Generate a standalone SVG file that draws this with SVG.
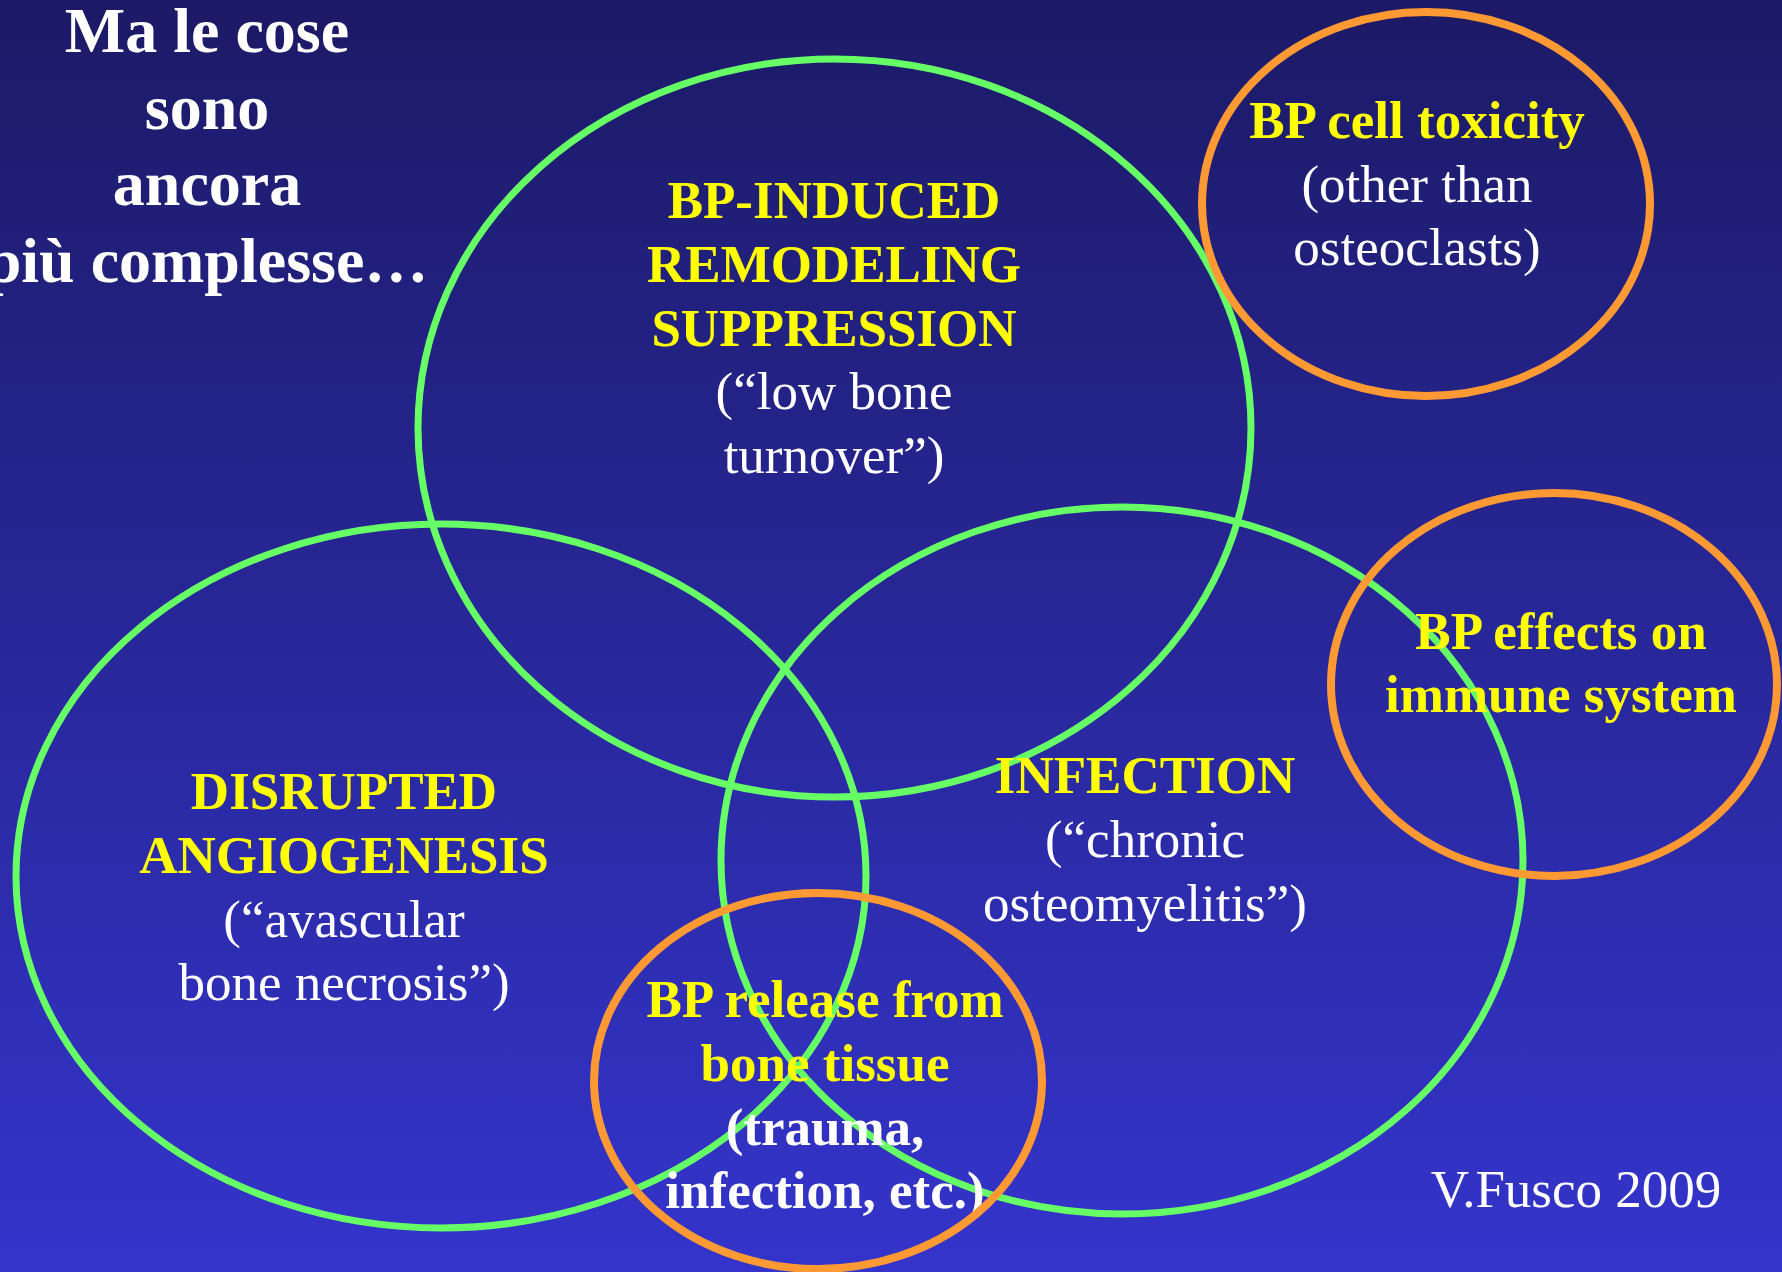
<svg xmlns="http://www.w3.org/2000/svg" width="1782" height="1272" viewBox="0 0 1782 1272">
<defs>
<linearGradient id="bg" x1="0" y1="0" x2="0" y2="1">
<stop offset="0" stop-color="#1c1a66"/>
<stop offset="1" stop-color="#3434cc"/>
</linearGradient>
<style>
.g{fill:none;stroke:#66ff66;stroke-width:7}
.o{fill:none;stroke:#ff9933;stroke-width:8}
text{font-family:"Liberation Serif","Times New Roman",serif;font-size:53px;text-anchor:middle}
.y{fill:#ffff00;font-weight:bold}
.w{fill:#ffffff}
.wb{fill:#ffffff;font-weight:bold}
.t{fill:#ffffff;font-weight:bold;font-size:64px}
</style>
</defs>
<rect width="1782" height="1272" fill="url(#bg)"/>
<g id="title">
<text class="t" x="207" y="52">Ma le cose</text>
<text class="t" x="207" y="129">sono</text>
<text class="t" x="207" y="205">ancora</text>
<text class="t" x="207" y="282">più complesse…</text>
</g>
<g id="remodeling">
<text class="y" x="834" y="218">BP-INDUCED</text>
<text class="y" x="834" y="282">REMODELING</text>
<text class="y" x="834" y="346">SUPPRESSION</text>
<text class="w" x="834" y="409">(“low bone</text>
<text class="w" x="834" y="473">turnover”)</text>
<ellipse class="g" cx="834.5" cy="428" rx="416.5" ry="369"/>
</g>
<g id="angiogenesis">
<text class="y" x="344" y="809">DISRUPTED</text>
<text class="y" x="344" y="873">ANGIOGENESIS</text>
<text class="w" x="344" y="937">(“avascular</text>
<text class="w" x="344" y="1000">bone necrosis”)</text>
<ellipse class="g" cx="441" cy="876" rx="425" ry="352"/>
</g>
<g id="infection">
<text class="y" x="1145" y="793">INFECTION</text>
<text class="w" x="1145" y="857">(“chronic</text>
<text class="w" x="1145" y="921">osteomyelitis”)</text>
<ellipse class="g" cx="1122" cy="860.5" rx="401" ry="353.5"/>
</g>
<g id="toxicity">
<ellipse class="o" cx="1426" cy="204" rx="224" ry="192"/>
<text class="y" x="1417" y="138">BP cell toxicity</text>
<text class="w" x="1417" y="202">(other than</text>
<text class="w" x="1417" y="265">osteoclasts)</text>
</g>
<g id="immune">
<text class="y" x="1561" y="649">BP effects on</text>
<text class="y" x="1561" y="712">immune system</text>
<ellipse class="o" cx="1554" cy="684.5" rx="223" ry="191.5"/>
</g>
<g id="release">
<text class="y" x="825" y="1017">BP release from</text>
<text class="y" x="825" y="1081">bone tissue</text>
<text class="wb" x="825" y="1145">(trauma,</text>
<text class="wb" x="825" y="1208">infection, etc.)</text>
<ellipse class="o" cx="818" cy="1081" rx="224" ry="188"/>
</g>
<g id="connectors"/>
<g id="credit">
<text class="w" x="1576" y="1207">V.Fusco 2009</text>
</g>
</svg>
